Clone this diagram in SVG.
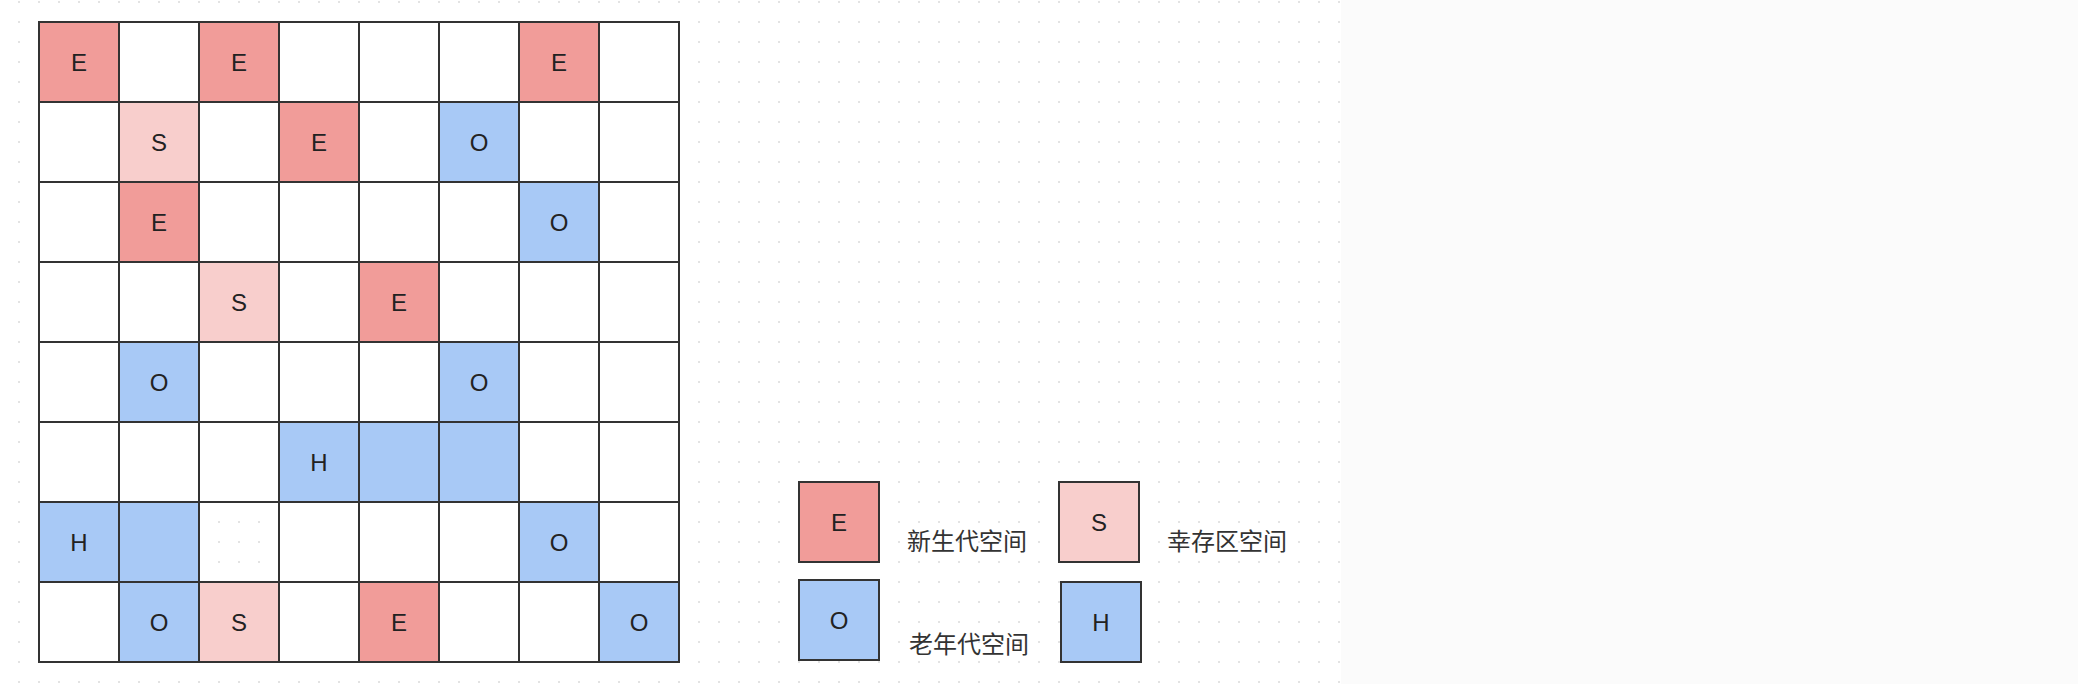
<svg xmlns="http://www.w3.org/2000/svg" width="2078" height="684" viewBox="0 0 2078 684">
<defs>
<pattern id="dots" x="-1" y="2" width="20" height="20" patternUnits="userSpaceOnUse">
<rect x="-1" y="-1" width="2" height="2" fill="#e3e3e3"/>
<rect x="19" y="-1" width="2" height="2" fill="#e3e3e3"/>
<rect x="-1" y="19" width="2" height="2" fill="#e3e3e3"/>
<rect x="19" y="19" width="2" height="2" fill="#e3e3e3"/>
</pattern>
</defs>
<style>
.c{stroke:#333;stroke-width:2;fill:#fff}
.n{stroke:#333;stroke-width:2;fill:none}
.e{stroke:#333;stroke-width:2;fill:#f19c99}
.s{stroke:#333;stroke-width:2;fill:#f8cecc}
.o{stroke:#333;stroke-width:2;fill:#a8c9f6}
.t{font-family:"Liberation Sans",Arial,sans-serif;font-size:24px;fill:#222;text-anchor:middle;dominant-baseline:central}
.l{font-family:"Liberation Sans","Noto Sans CJK SC",sans-serif;font-size:24px;fill:#333;text-anchor:middle;dominant-baseline:central}
</style>
<rect x="0" y="0" width="2078" height="684" fill="#fbfbfb"/>
<rect x="0" y="0" width="1341" height="684" fill="#fff"/>
<rect x="0" y="0" width="1341" height="684" fill="url(#dots)"/>

<g id="grid">
<g id="r0c0"><rect class="e" x="39" y="22" width="80" height="80"/><text class="t" x="79" y="62">E</text></g>
<g id="r0c1"><rect class="c" x="119" y="22" width="80" height="80"/></g>
<g id="r0c2"><rect class="e" x="199" y="22" width="80" height="80"/><text class="t" x="239" y="62">E</text></g>
<g id="r0c3"><rect class="c" x="279" y="22" width="80" height="80"/></g>
<g id="r0c4"><rect class="c" x="359" y="22" width="80" height="80"/></g>
<g id="r0c5"><rect class="c" x="439" y="22" width="80" height="80"/></g>
<g id="r0c6"><rect class="e" x="519" y="22" width="80" height="80"/><text class="t" x="559" y="62">E</text></g>
<g id="r0c7"><rect class="c" x="599" y="22" width="80" height="80"/></g>

<g id="r1c0"><rect class="c" x="39" y="102" width="80" height="80"/></g>
<g id="r1c1"><rect class="s" x="119" y="102" width="80" height="80"/><text class="t" x="159" y="142">S</text></g>
<g id="r1c2"><rect class="c" x="199" y="102" width="80" height="80"/></g>
<g id="r1c3"><rect class="e" x="279" y="102" width="80" height="80"/><text class="t" x="319" y="142">E</text></g>
<g id="r1c4"><rect class="c" x="359" y="102" width="80" height="80"/></g>
<g id="r1c5"><rect class="o" x="439" y="102" width="80" height="80"/><text class="t" x="479" y="142">O</text></g>
<g id="r1c6"><rect class="c" x="519" y="102" width="80" height="80"/></g>
<g id="r1c7"><rect class="c" x="599" y="102" width="80" height="80"/></g>

<g id="r2c0"><rect class="c" x="39" y="182" width="80" height="80"/></g>
<g id="r2c1"><rect class="e" x="119" y="182" width="80" height="80"/><text class="t" x="159" y="222">E</text></g>
<g id="r2c2"><rect class="c" x="199" y="182" width="80" height="80"/></g>
<g id="r2c3"><rect class="c" x="279" y="182" width="80" height="80"/></g>
<g id="r2c4"><rect class="c" x="359" y="182" width="80" height="80"/></g>
<g id="r2c5"><rect class="c" x="439" y="182" width="80" height="80"/></g>
<g id="r2c6"><rect class="o" x="519" y="182" width="80" height="80"/><text class="t" x="559" y="222">O</text></g>
<g id="r2c7"><rect class="c" x="599" y="182" width="80" height="80"/></g>

<g id="r3c0"><rect class="c" x="39" y="262" width="80" height="80"/></g>
<g id="r3c1"><rect class="c" x="119" y="262" width="80" height="80"/></g>
<g id="r3c2"><rect class="s" x="199" y="262" width="80" height="80"/><text class="t" x="239" y="302">S</text></g>
<g id="r3c3"><rect class="c" x="279" y="262" width="80" height="80"/></g>
<g id="r3c4"><rect class="e" x="359" y="262" width="80" height="80"/><text class="t" x="399" y="302">E</text></g>
<g id="r3c5"><rect class="c" x="439" y="262" width="80" height="80"/></g>
<g id="r3c6"><rect class="c" x="519" y="262" width="80" height="80"/></g>
<g id="r3c7"><rect class="c" x="599" y="262" width="80" height="80"/></g>

<g id="r4c0"><rect class="c" x="39" y="342" width="80" height="80"/></g>
<g id="r4c1"><rect class="o" x="119" y="342" width="80" height="80"/><text class="t" x="159" y="382">O</text></g>
<g id="r4c2"><rect class="c" x="199" y="342" width="80" height="80"/></g>
<g id="r4c3"><rect class="c" x="279" y="342" width="80" height="80"/></g>
<g id="r4c4"><rect class="c" x="359" y="342" width="80" height="80"/></g>
<g id="r4c5"><rect class="o" x="439" y="342" width="80" height="80"/><text class="t" x="479" y="382">O</text></g>
<g id="r4c6"><rect class="c" x="519" y="342" width="80" height="80"/></g>
<g id="r4c7"><rect class="c" x="599" y="342" width="80" height="80"/></g>

<g id="r5c0"><rect class="c" x="39" y="422" width="80" height="80"/></g>
<g id="r5c1"><rect class="c" x="119" y="422" width="80" height="80"/></g>
<g id="r5c2"><rect class="c" x="199" y="422" width="80" height="80"/></g>
<g id="r5c3"><rect class="o" x="279" y="422" width="80" height="80"/><text class="t" x="319" y="462">H</text></g>
<g id="r5c4"><rect class="o" x="359" y="422" width="80" height="80"/></g>
<g id="r5c5"><rect class="o" x="439" y="422" width="80" height="80"/></g>
<g id="r5c6"><rect class="c" x="519" y="422" width="80" height="80"/></g>
<g id="r5c7"><rect class="c" x="599" y="422" width="80" height="80"/></g>

<g id="r6c0"><rect class="o" x="39" y="502" width="80" height="80"/><text class="t" x="79" y="542">H</text></g>
<g id="r6c1"><rect class="o" x="119" y="502" width="80" height="80"/></g>
<g id="r6c2"><rect class="n" x="199" y="502" width="80" height="80"/></g>
<g id="r6c3"><rect class="c" x="279" y="502" width="80" height="80"/></g>
<g id="r6c4"><rect class="c" x="359" y="502" width="80" height="80"/></g>
<g id="r6c5"><rect class="c" x="439" y="502" width="80" height="80"/></g>
<g id="r6c6"><rect class="o" x="519" y="502" width="80" height="80"/><text class="t" x="559" y="542">O</text></g>
<g id="r6c7"><rect class="c" x="599" y="502" width="80" height="80"/></g>

<g id="r7c0"><rect class="c" x="39" y="582" width="80" height="80"/></g>
<g id="r7c1"><rect class="o" x="119" y="582" width="80" height="80"/><text class="t" x="159" y="622">O</text></g>
<g id="r7c2"><rect class="s" x="199" y="582" width="80" height="80"/><text class="t" x="239" y="622">S</text></g>
<g id="r7c3"><rect class="c" x="279" y="582" width="80" height="80"/></g>
<g id="r7c4"><rect class="e" x="359" y="582" width="80" height="80"/><text class="t" x="399" y="622">E</text></g>
<g id="r7c5"><rect class="c" x="439" y="582" width="80" height="80"/></g>
<g id="r7c6"><rect class="c" x="519" y="582" width="80" height="80"/></g>
<g id="r7c7"><rect class="o" x="599" y="582" width="80" height="80"/><text class="t" x="639" y="622">O</text></g>
</g>

<g id="legend-e"><rect class="e" x="799" y="482" width="80" height="80"/><text class="t" x="839" y="522">E</text></g>
<g id="legend-e-label"><text class="l" x="967" y="541">新生代空间</text></g>
<g id="legend-s"><rect class="s" x="1059" y="482" width="80" height="80"/><text class="t" x="1099" y="522">S</text></g>
<g id="legend-s-label"><text class="l" x="1227" y="541">幸存区空间</text></g>
<g id="legend-o"><rect class="o" x="799" y="580" width="80" height="80"/><text class="t" x="839" y="620">O</text></g>
<g id="legend-o-label"><text class="l" x="969" y="644">老年代空间</text></g>
<g id="legend-h"><rect class="o" x="1061" y="582" width="80" height="80"/><text class="t" x="1101" y="622">H</text></g>
</svg>
